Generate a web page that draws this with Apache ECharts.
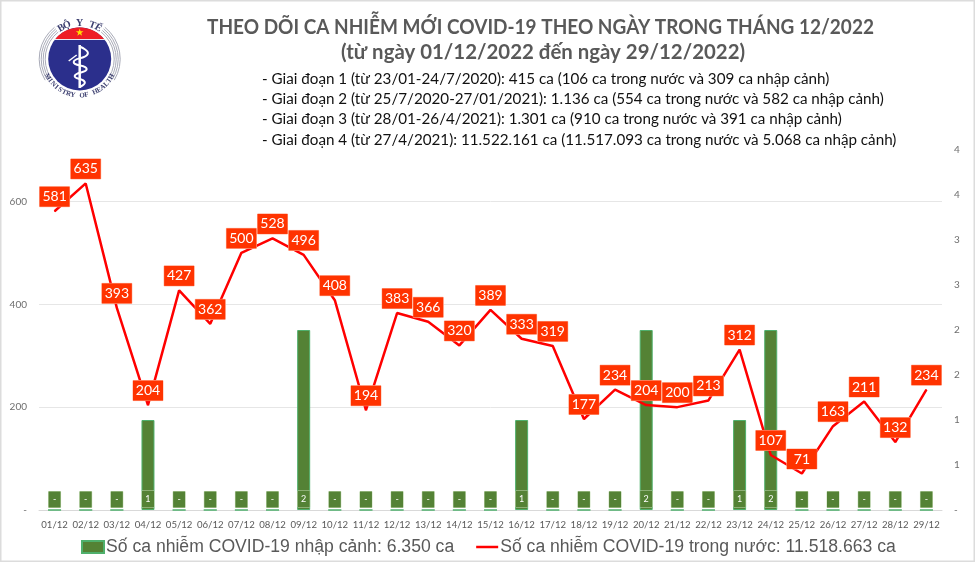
<!DOCTYPE html>
<html lang="vi">

<head>
  <meta charset="UTF-8">
  <title>Theo dõi ca nhiễm mới COVID-19</title>
  <style>
    * {
      margin: 0;
      padding: 0;
    }
    body {
      background-color: #fff;
    }
    #main {
      width: 975px;
      height: 562px;
    }
  </style>
</head>

<body>
  <div id="main"></div>
  <script src="https://cdn.jsdelivr.net/npm/echarts@6/dist/echarts.min.js"></script>
  <script>
    var days = ['01/12', '02/12', '03/12', '04/12', '05/12', '06/12', '07/12', '08/12', '09/12', '10/12',
      '11/12', '12/12', '13/12', '14/12', '15/12', '16/12', '17/12', '18/12', '19/12', '20/12',
      '21/12', '22/12', '23/12', '24/12', '25/12', '26/12', '27/12', '28/12', '29/12'];
    var domestic = [581, 635, 393, 204, 427, 362, 500, 528, 496, 408, 194, 383, 366, 320, 389, 333, 319,
      177, 234, 204, 200, 213, 312, 107, 71, 163, 211, 132, 234];
    var imported = [0, 0, 0, 1, 0, 0, 0, 0, 2, 0, 0, 0, 0, 0, 0, 1, 0, 0, 0, 2, 0, 0, 1, 2, 0, 0, 0, 0, 0];
    var importedName = 'Số ca nhiễm COVID-19 nhập cảnh: 6.350 ca';
    var domesticName = 'Số ca nhiễm COVID-19 trong nước: 11.518.663 ca';
    var mainTitle = 'THEO DÕI CA NHIỄM MỚI COVID-19 THEO NGÀY TRONG THÁNG 12/2022';
    var subTitle = '(từ ngày 01/12/2022 đến ngày 29/12/2022)';
    var periods = [
      '- Giai đoạn 1 (từ 23/01-24/7/2020): 415 ca (106 ca trong nước và 309 ca nhập cảnh)',
      '- Giai đoạn 2 (từ 25/7/2020-27/01/2021): 1.136 ca (554 ca trong nước và 582 ca nhập cảnh)',
      '- Giai đoạn 3 (từ 28/01-26/4/2021): 1.301 ca (910 ca trong nước và 391 ca nhập cảnh)',
      '- Giai đoạn 4 (từ 27/4/2021): 11.522.161 ca (11.517.093 ca trong nước và 5.068 ca nhập cảnh)'
    ];

    var titleFont = 'Lato, "Noto Sans", sans-serif';

    // logo Bo Y te, ve bang graphic
    function logoElements() {
      var cx = 79.7, cy = 59, R = 31.5, els = [];
      // vong cung xam hai ben
      [34.5, 36.5, 38.5, 40.5].forEach(function (r) {
        els.push({ type: 'arc', shape: { cx: cx, cy: cy, r: r, startAngle: -0.9, endAngle: 0.55 }, style: { stroke: '#a9abb8', lineWidth: 1, fill: null } });
        els.push({ type: 'arc', shape: { cx: cx, cy: cy, r: r, startAngle: Math.PI - 0.55, endAngle: Math.PI + 0.9 }, style: { stroke: '#a9abb8', lineWidth: 1, fill: null } });
      });
      els.push({ type: 'circle', shape: { cx: cx, cy: cy, r: R }, style: { fill: '#2b2f8c' } });
      // phan do phia tren
      var red = [];
      for (var a = -2.453; a <= -0.688; a += 0.08) {
        red.push([cx + R * Math.cos(a), cy + R * Math.sin(a)]);
      }
      red.push([cx + R * Math.cos(-0.688), cy + R * Math.sin(-0.688)]);
      els.push({ type: 'polygon', shape: { points: red }, style: { fill: '#ee1c25' } });
      els.push({ type: 'line', shape: { x1: cx - 25, y1: 39.5, x2: cx + 25, y2: 39.5 }, style: { stroke: '#e8e8f0', lineWidth: 1 } });
      // ngoi sao
      var star = [];
      for (var i = 0; i < 10; i++) {
        var r = i % 2 ? 1.6 : 4;
        var t = -Math.PI / 2 + i * Math.PI / 5;
        star.push([cx + r * Math.cos(t), 32.5 + r * Math.sin(t)]);
      }
      els.push({ type: 'polygon', shape: { points: star }, style: { fill: '#ffe000' } });
      // gay va ran
      els.push({ type: 'line', shape: { x1: cx, y1: 45, x2: cx, y2: 88 }, style: { stroke: '#fff', lineWidth: 2.5 } });
      els.push({
        type: 'polyline',
        shape: { smooth: 0.6, points: [[cx + 1, 47], [cx + 8, 54], [cx - 6, 62], [cx + 7, 69], [cx - 5, 76], [cx + 5, 82], [cx, 87]] },
        style: { stroke: '#fff', lineWidth: 2, fill: null }
      });
      els.push({ type: 'line', shape: { x1: cx - 11, y1: 61, x2: cx - 3, y2: 55 }, style: { stroke: '#fff', lineWidth: 1.5 } });
      // chu chay theo vong tron
      function arcText(str, r, mid, step, size, bottom) {
        str.split('').forEach(function (ch, k) {
          var off = (k - (str.length - 1) / 2) * step;
          var ang = bottom ? mid - off : mid + off;
          els.push({
            type: 'text',
            x: cx + r * Math.cos(ang),
            y: cy + r * Math.sin(ang),
            rotation: bottom ? -(ang - Math.PI / 2) : -(ang + Math.PI / 2),
            style: { text: ch, fill: '#3a3d6e', font: 'bold ' + size + 'px "Liberation Serif", serif', align: 'center', verticalAlign: 'middle' }
          });
        });
      }
      arcText('BỘ Y TẾ', 36, -Math.PI / 2, 0.18, 10, false);
      arcText('MINISTRY OF HEALTH', 36.5, Math.PI / 2, 0.125, 7, true);
      return els;
    }

    // chu tieu de, co scaleX cho khop do rong
    function textEl(str, x, y, sx, font, color) {
      return {
        type: 'text',
        x: x,
        y: y,
        scaleX: sx,
        style: { text: str, font: font, fill: color, align: 'left', verticalAlign: 'middle' }
      };
    }

    var textEls = [
      textEl(mainTitle, 207, 28, 0.95, 'bold 20px ' + titleFont, '#595959'),
      textEl(subTitle, 341, 53, 1.02, 'bold 20px ' + titleFont, '#595959')
    ];
    var periodY = [79, 99, 119, 140];
    periods.forEach(function (p, i) {
      textEls.push(textEl(p, 262, periodY[i], 0.98, '15.5px ' + titleFont, '#111'));
    });

    var chart = echarts.init(document.getElementById('main'));

    var option = {
      animation: false,
      backgroundColor: '#fff',
      graphic: {
        elements: [{ type: 'rect', shape: { x: 0.5, y: 0.5, width: 974, height: 561 }, style: { stroke: '#dcdcdc', lineWidth: 2, fill: null } }]
          .concat(logoElements(), textEls)
      },
      legend: {
        left: 76,
        top: 533,
        itemWidth: 22,
        itemHeight: 12,
        itemGap: 22,
        textStyle: { fontFamily: '"Liberation Sans", sans-serif', fontSize: 17.6, color: '#595959', padding: [0, 0, 0, -3] },
        data: [
          { name: importedName, icon: 'rect' },
          { name: domesticName, icon: 'path://M0 0H220V25H0Z' }
        ]
      },
      grid: { left: 39, right: 33, top: 150, bottom: 52 },
      xAxis: {
        type: 'category',
        data: days,
        axisTick: { show: false },
        axisLine: { lineStyle: { color: '#d9d9d9' } },
        axisLabel: { interval: 0, margin: 10, fontFamily: titleFont, fontSize: 9.6, color: '#595959' }
      },
      yAxis: [
        {
          type: 'value',
          min: 0,
          max: 700,
          interval: 200,
          axisLine: { show: false },
          axisTick: { show: false },
          splitLine: { showMaxLine: false, lineStyle: { color: '#e6e6e6' } },
          axisLabel: {
            showMaxLabel: false,
            margin: 12,
            fontFamily: titleFont,
            fontSize: 10,
            color: '#6e6e6e',
            formatter: function (v) { return v === 0 ? '-' : v; }
          }
        },
        {
          type: 'value',
          min: 0,
          max: 4,
          interval: 0.5,
          axisLine: { show: false },
          axisTick: { show: false },
          splitLine: { show: false },
          axisLabel: {
            margin: 12,
            fontFamily: titleFont,
            fontSize: 10,
            color: '#6e6e6e',
            formatter: function (v) { return v === 0 ? '-' : Math.round(v); }
          }
        }
      ],
      series: [
        {
          name: importedName,
          type: 'bar',
          yAxisIndex: 1,
          data: imported,
          barWidth: 13,
          itemStyle: { color: '#548235', borderColor: '#4fb06c', borderWidth: 1 },
          label: {
            show: true,
            position: 'insideBottom',
            distance: 3,
            width: 12,
            height: 16,
            lineHeight: 16,
            align: 'center',
            fontFamily: titleFont,
            fontSize: 9,
            color: '#fff',
            backgroundColor: '#548235',
            borderColor: '#c5dcb4',
            borderWidth: 0.5,
            formatter: function (p) { return p.value === 0 ? '-' : p.value; }
          }
        },
        {
          name: domesticName,
          type: 'line',
          data: domestic,
          z: 5,
          symbol: 'circle',
          symbolSize: 1,
          showSymbol: true,
          showAllSymbol: true,
          lineStyle: { color: '#ff0000', width: 2.5 },
          itemStyle: { color: '#ff0000' },
          label: {
            show: true,
            position: 'top',
            distance: 4,
            width: 30,
            height: 20,
            lineHeight: 20,
            align: 'center',
            fontFamily: titleFont,
            fontSize: 14,
            color: '#fff',
            backgroundColor: '#ff3300',
            borderColor: '#ffb199',
            borderWidth: 0.5
          },
          labelLayout: { hideOverlap: false }
        }
      ]
    };

    chart.setOption(option);
  </script>
</body>

</html>
